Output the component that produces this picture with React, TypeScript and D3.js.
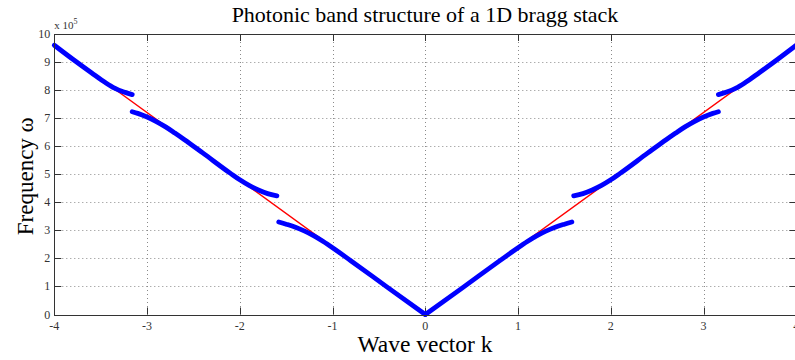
import React from "react";
import * as d3 from "d3";

// Light line (average-index dispersion), in units of 1e5
const lightK = [-4, 0, 4];
const lightW = [9.6, 0, 9.6];

// Photonic bands, one array pair per branch (frequency in units of 1e5)
const bandK1 = [-4, -3.8, -3.6, -3.45, -3.35, -3.25, -3.16];
const bandW1 = [9.6, 9.1, 8.62, 8.27, 8.07, 7.93, 7.84];

const bandK2 = [-3.16, -3.1, -3.0, -2.9, -2.8, -2.7, -2.6, -2.4, -2.1, -2.0, -1.9, -1.8, -1.7, -1.6];
const bandW2 = [7.23, 7.17, 7.04, 6.88, 6.69, 6.47, 6.24, 5.76, 5.03, 4.8, 4.6, 4.44, 4.31, 4.23];

const bandK3 = [-1.58, -1.5, -1.4, -1.3, -1.2, -1.1, -1.0, -0.8, -0.4, 0];
const bandW3 = [3.3, 3.22, 3.11, 2.97, 2.8, 2.6, 2.38, 1.91, 0.95, 0];

const bandK4 = [0, 0.4, 0.8, 1.0, 1.1, 1.2, 1.3, 1.4, 1.5, 1.58];
const bandW4 = [0, 0.95, 1.91, 2.38, 2.6, 2.8, 2.97, 3.11, 3.22, 3.3];

const bandK5 = [1.6, 1.7, 1.8, 1.9, 2.0, 2.1, 2.4, 2.6, 2.7, 2.8, 2.9, 3.0, 3.1, 3.16];
const bandW5 = [4.23, 4.31, 4.44, 4.6, 4.8, 5.03, 5.76, 6.24, 6.47, 6.69, 6.88, 7.04, 7.17, 7.23];

const bandK6 = [3.16, 3.25, 3.35, 3.45, 3.6, 3.8, 4];
const bandW6 = [7.84, 7.93, 8.07, 8.27, 8.62, 9.1, 9.6];

const xTicks = [-4, -3, -2, -1, 0, 1, 2, 3, 4];
const yTicks = [0, 1, 2, 3, 4, 5, 6, 7, 8, 9, 10];

const titleText = "Photonic band structure of a 1D bragg stack";
const xLabel = "Wave vector k";
const yLabel = "Frequency ω";

const W = 795;
const H = 360;
const left = 54.3;
const right = 796.3;
const top = 34;
const bottom = 314.5;

export default function App() {
  const x = d3.scaleLinear().domain([-4, 4]).range([left, right]);
  const y = d3.scaleLinear().domain([0, 10]).range([bottom, top]);

  const toPts = (ks: number[], ws: number[]) => ks.map((k, i) => [k, ws[i]] as [number, number]);

  const smooth = d3
    .line<[number, number]>()
    .x((d) => x(d[0]))
    .y((d) => y(d[1]))
    .curve(d3.curveMonotoneX);
  const straight = d3
    .line<[number, number]>()
    .x((d) => x(d[0]))
    .y((d) => y(d[1]));

  const bands = [
    toPts(bandK1, bandW1),
    toPts(bandK2, bandW2),
    toPts(bandK3, bandW3),
    toPts(bandK4, bandW4),
    toPts(bandK5, bandW5),
    toPts(bandK6, bandW6),
  ];

  const axisColor = "#333";
  const gridColor = "#8a8a8a";
  const tickLen = 7;
  const font = "'Liberation Serif', 'Times New Roman', serif";

  return (
    <svg
      width={W}
      height={H}
      style={{ position: "fixed", left: 0, top: 0, background: "#fff" }}
    >
      <rect x={0} y={0} width={W} height={H} fill="#fff" />
      {/* grid */}
      <g stroke={gridColor} strokeWidth={1} strokeDasharray="1,3">
        {xTicks.slice(1, -1).map((t) => (
          <line key={"gx" + t} x1={Math.round(x(t)) + 0.5} x2={Math.round(x(t)) + 0.5} y1={top} y2={bottom} />
        ))}
        {yTicks.slice(1, -1).map((t) => (
          <line key={"gy" + t} x1={left} x2={right} y1={Math.round(y(t)) + 0.5} y2={Math.round(y(t)) + 0.5} />
        ))}
      </g>

      {/* ticks on all four sides */}
      <g stroke={axisColor} strokeWidth={1}>
        {xTicks.map((t) => {
          const px = Math.round(x(t)) + 0.5;
          return (
            <g key={"tx" + t}>
              <line x1={px} x2={px} y1={bottom} y2={bottom - tickLen} />
              <line x1={px} x2={px} y1={top} y2={top + tickLen} />
            </g>
          );
        })}
        {yTicks.map((t) => {
          const py = Math.round(y(t)) + 0.5;
          return (
            <g key={"ty" + t}>
              <line x1={left} x2={left + tickLen} y1={py} y2={py} />
              <line x1={right} x2={right - tickLen} y1={py} y2={py} />
            </g>
          );
        })}
      </g>

      {/* light line */}
      <path d={straight(toPts(lightK, lightW)) || ""} fill="none" stroke="#ff0000" strokeWidth={1.4} />

      {/* bands */}
      {bands.map((b, i) => (
        <path
          key={"b" + i}
          d={smooth(b) || ""}
          fill="none"
          stroke="#0000ff"
          strokeWidth={4.8}
          strokeLinecap="round"
          strokeLinejoin="round"
        />
      ))}

      {/* axes box */}
      <rect
        x={Math.round(left) + 0.5}
        y={top + 0.5}
        width={right - left}
        height={Math.round(bottom) - top}
        fill="none"
        stroke={axisColor}
        strokeWidth={1}
      />

      {/* tick labels */}
      <g fontFamily={font} fontSize={12} fill="#333">
        {xTicks.map((t) => (
          <text key={"lx" + t} x={x(t)} y={bottom + 15} textAnchor="middle">
            {t < 0 ? "-" + Math.abs(t) : String(t)}
          </text>
        ))}
        {yTicks.map((t) => (
          <text key={"ly" + t} x={left - 4} y={y(t) + 4} textAnchor="end">
            {t}
          </text>
        ))}
        <text x={left} y={top - 5} fontSize={11}>
          x 10
          <tspan fontSize={8} dy={-5}>
            5
          </tspan>
        </text>
      </g>

      {/* titles */}
      <text x={425} y={22} textAnchor="middle" fontFamily={font} fontSize={22} fill="#000">
        {titleText}
      </text>
      <text x={425} y={352} textAnchor="middle" fontFamily={font} fontSize={23.5} fill="#000">
        {xLabel}
      </text>
      <text
        transform={`translate(33, ${(top + bottom) / 2 + 2}) rotate(-90)`}
        textAnchor="middle"
        fontFamily={font}
        fontSize={23}
        fill="#000"
      >
        {yLabel}
      </text>
    </svg>
  );
}
